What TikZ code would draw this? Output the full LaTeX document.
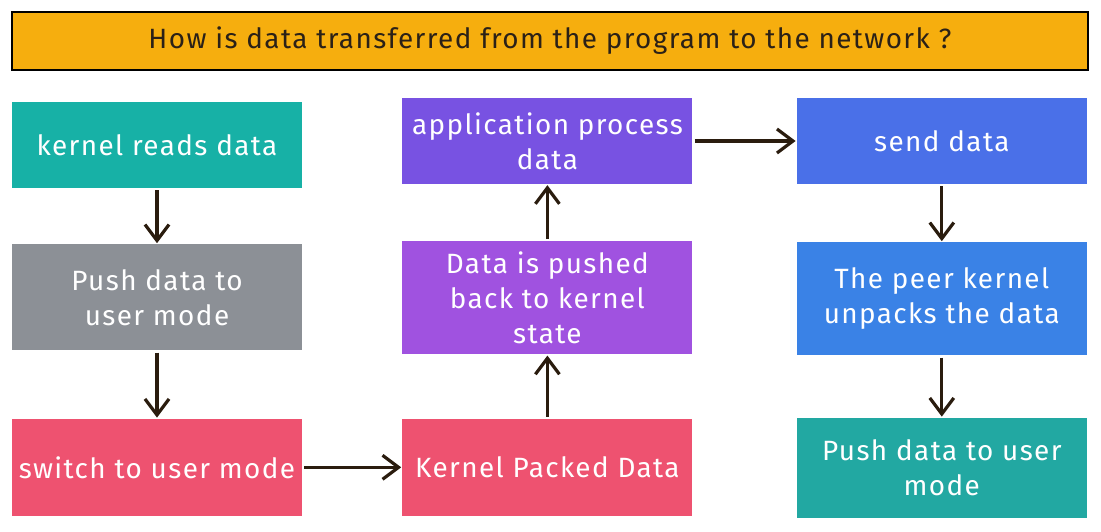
\documentclass[tikz,border=0pt]{standalone}
\usepackage{fontspec}
\setmainfont{Fira Sans}[LetterSpace=5]
\usetikzlibrary{arrows.meta}
\usetikzlibrary{positioning}

\definecolor{titleorange}{HTML}{F6AE0E}
\definecolor{titleink}{HTML}{2B2117}
\definecolor{tealbox}{HTML}{17B1A6}
\definecolor{greybox}{HTML}{8C9096}
\definecolor{redbox}{HTML}{EE5270}
\definecolor{purplebox}{HTML}{A052E0}
\definecolor{violetbox}{HTML}{7852E2}
\definecolor{bluebox}{HTML}{4A70E8}
\definecolor{skybox}{HTML}{3A82E6}
\definecolor{seabox}{HTML}{22A8A2}
\definecolor{arrowbrown}{HTML}{2A1C0E}

\tikzset{
  stepbox/.style={fill=#1, draw=none, text=white, minimum width=290bp,
    align=center, inner sep=0pt, font=\fontsize{28}{35}\selectfont},
  flow/.style={draw=arrowbrown, line width=3.2bp,
    -{Straight Barb[length=16bp,width=24bp]}, shorten >=1bp, shorten <=2bp}
}

\begin{document}
\begin{tikzpicture}[x=1bp, y=-1bp]
  \useasboundingbox (0,0) rectangle (1101,532);

  \node[draw=black, line width=2bp, fill=titleorange, text=titleink,
        minimum width=1076bp, minimum height=58bp,
        font=\fontsize{28}{35}\selectfont] (title) at (550,41)
        {How is data transferred from the program to the network ?};

  % left column, going down
  \node[stepbox=tealbox, minimum height=86bp] (read) at (157,145) {kernel reads data};
  \node[stepbox=greybox, minimum height=106bp, below=56bp of read] (push) {Push data to\\user mode};
  \node[stepbox=redbox, minimum height=97bp, below=68bp of push] (switch) {switch to user mode};

  % middle column, going up
  \node[stepbox=redbox, minimum height=97bp, right=100bp of switch] (packed) {Kernel Packed Data};
  \node[stepbox=purplebox, minimum height=113bp, above=64bp of packed] (back) {Data is pushed\\back to kernel\\state};
  \node[stepbox=violetbox, minimum height=86bp, above=57bp of back] (app) {application process\\data};

  % right column, going down
  \node[stepbox=bluebox, minimum height=86bp, right=104bp of app] (send) {send data};
  \node[stepbox=skybox, minimum height=113bp, below=58bp of send] (peer) {The peer kernel\\unpacks the data};
  \node[stepbox=seabox, minimum height=100bp, below=62bp of peer] (push2) {Push data to user\\mode};

  \draw[flow] (read) -- (push);
  \draw[flow] (push) -- (switch);
  \draw[flow] (switch) -- (packed);
  \draw[flow] (packed) -- (back);
  \draw[flow] (back) -- (app);
  \draw[flow] (app) -- (send);
  \draw[flow] (send) -- (peer);
  \draw[flow] (peer) -- (push2);
\end{tikzpicture}
\end{document}
